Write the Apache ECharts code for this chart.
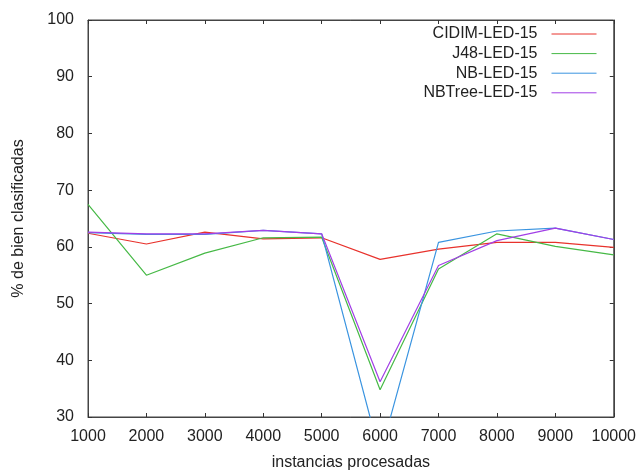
<!DOCTYPE html>
<html>
<head>
<meta charset="utf-8">
<script src="https://cdn.jsdelivr.net/npm/echarts@6/dist/echarts.min.js"></script>
<style>
html, body { margin: 0; padding: 0; background: #fff; }
#chart_box { width: 639px; height: 476px; }
</style>
</head>
<body>
<div id="chart_box"></div>
<script>
/*x轴: 已处理实例数*/
var instancias = [1000, 2000, 3000, 4000, 5000, 6000, 7000, 8000, 9000, 10000];
/*各算法正确分类百分比*/
var cidim = [62.4, 60.5, 62.6, 61.4, 61.6, 57.8, 59.6, 60.8, 60.8, 59.9];
var j48 = [67.5, 55.0, 58.9, 61.6, 61.7, 34.8, 56.1, 62.3, 60.1, 58.6];
var nb = [62.5, 62.2, 62.2, 62.9, 62.3, 23.3, 60.8, 62.8, 63.3, 61.3];
var nbtree = [62.6, 62.3, 62.3, 62.9, 62.3, 36.2, 56.7, 61.1, 63.3, 61.3];
var seriesNames = ['CIDIM-LED-15', 'J48-LED-15', 'NB-LED-15', 'NBTree-LED-15'];
var seriesColors = ['#e8322c', '#46b946', '#3a94e0', '#a23fe6'];

var myChart = echarts.init(document.getElementById('chart_box'), null, { renderer: 'canvas' });
var font = 'Liberation Sans, Arial, sans-serif';

function toPairs(arr) {
	var out = [];
	for (var i = 0; i < arr.length; i++) {
		out.push([instancias[i], arr[i]]);
	}
	return out;
}

var dataList = [cidim, j48, nb, nbtree];
var series = [];
for (var i = 0; i < dataList.length; i++) {
	series.push({
		name: seriesNames[i],
		type: 'line',
		data: toPairs(dataList[i]),
		symbol: 'none',
		clip: true,
		lineStyle: { color: seriesColors[i], width: 1.2 },
		itemStyle: { color: seriesColors[i] }
	});
}

var tickStyle = { show: true, inside: true, length: 4, lineStyle: { color: '#333', width: 1 } };

var option = {
	animation: false,
	backgroundColor: '#fff',
	grid: {
		left: 88, right: 23, top: 20, bottom: 59,
		show: true, borderColor: '#444', borderWidth: 1
	},
	legend: {
		orient: 'vertical',
		right: 37,
		top: 21,
		align: 'right',
		itemWidth: 45,
		itemHeight: 14,
		itemGap: 3.6,
		data: seriesNames,
		itemStyle: { opacity: 0 },
		lineStyle: { width: 1 },
		textStyle: { fontFamily: font, fontSize: 16, color: '#222', padding: [0, 9, 0, 0] }
	},
	xAxis: [{
		type: 'value',
		min: 1000, max: 10000, interval: 1000,
		position: 'bottom',
		name: 'instancias procesadas',
		nameLocation: 'middle',
		nameGap: 38,
		nameTextStyle: { fontFamily: font, fontSize: 16, color: '#222' },
		axisLine: { show: true, lineStyle: { color: '#444' } },
		axisTick: tickStyle,
		splitLine: { show: false },
		axisLabel: {
			fontFamily: font, fontSize: 16, color: '#222', margin: 12,
			formatter: function(v) { return String(v); }
		}
	}, {
		type: 'value',
		min: 1000, max: 10000, interval: 1000,
		position: 'top',
		axisLine: { show: true, lineStyle: { color: '#444' } },
		axisTick: tickStyle,
		splitLine: { show: false },
		axisLabel: { show: false }
	}],
	yAxis: [{
		type: 'value',
		min: 30, max: 100, interval: 10,
		position: 'left',
		name: '% de bien clasificadas',
		nameLocation: 'middle',
		nameRotate: 90,
		nameGap: 61,
		nameTextStyle: { fontFamily: font, fontSize: 16, color: '#222' },
		axisLine: { show: true, lineStyle: { color: '#444' } },
		axisTick: tickStyle,
		splitLine: { show: false },
		axisLabel: { fontFamily: font, fontSize: 16, color: '#222', margin: 14 }
	}, {
		type: 'value',
		min: 30, max: 100, interval: 10,
		position: 'right',
		axisLine: { show: true, lineStyle: { color: '#444' } },
		axisTick: tickStyle,
		splitLine: { show: false },
		axisLabel: { show: false }
	}],
	series: series
};
myChart.setOption(option);
</script>
</body>
</html>
